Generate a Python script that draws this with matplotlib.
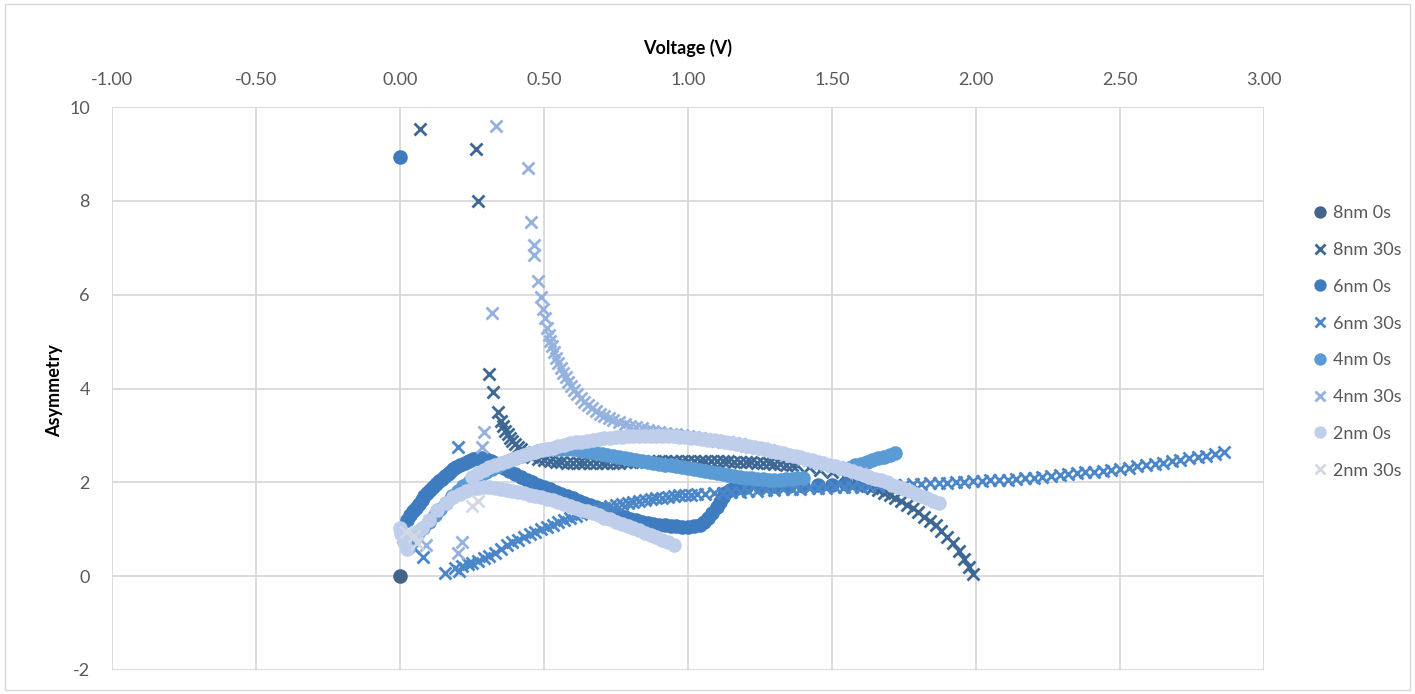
import matplotlib
matplotlib.use("Agg")
import matplotlib.pyplot as plt
from matplotlib.patches import Rectangle

plt.rcParams["font.family"] = ["Lato", "DejaVu Sans"]
plt.rcParams["axes.unicode_minus"] = False

# ---- data: (voltage [V], asymmetry) pairs for each film thickness / anneal time ----
labels = ["8nm 0s", "8nm 30s", "6nm 0s", "6nm 30s", "4nm 0s", "4nm 30s", "2nm 0s", "2nm 30s"]

pts_8nm_0s = [(0.0, 0.0)]

pts_8nm_30s = [
    (0.07, 9.53), (0.265, 9.1), (0.27, 8.0), (0.31, 4.3), (0.323, 3.92), (0.34, 3.5), (0.35, 3.3),
    (0.358, 3.2), (0.366, 3.1), (0.374, 3.02), (0.382, 2.95), (0.39, 2.88), (0.40, 2.82),
    (0.41, 2.76), (0.42, 2.7), (0.43, 2.65), (0.44, 2.6), (0.45, 2.56), (0.46, 2.53), (0.48, 2.49),
    (0.50, 2.47), (0.52, 2.45), (0.54, 2.44), (0.56, 2.43), (0.58, 2.42), (0.60, 2.42), (0.62, 2.41),
    (0.64, 2.41), (0.66, 2.41), (0.68, 2.41), (0.70, 2.41), (0.72, 2.42), (0.74, 2.42), (0.76, 2.42),
    (0.78, 2.43), (0.80, 2.43), (0.82, 2.44), (0.84, 2.44), (0.86, 2.45), (0.88, 2.45), (0.90, 2.45),
    (0.92, 2.45), (0.94, 2.46), (0.96, 2.46), (0.98, 2.46), (1.00, 2.46), (1.02, 2.46), (1.04, 2.46),
    (1.06, 2.46), (1.08, 2.45), (1.10, 2.45), (1.12, 2.45), (1.14, 2.45), (1.16, 2.44), (1.18, 2.44),
    (1.20, 2.43), (1.22, 2.43), (1.24, 2.42), (1.26, 2.42), (1.28, 2.41), (1.30, 2.40), (1.32, 2.39),
    (1.34, 2.38), (1.36, 2.37), (1.38, 2.36), (1.42, 2.32), (1.46, 2.27), (1.50, 2.21), (1.54, 2.14),
    (1.58, 2.04), (1.60, 1.98), (1.62, 1.93), (1.64, 1.88), (1.66, 1.83), (1.68, 1.78), (1.70, 1.72),
    (1.72, 1.66), (1.74, 1.6), (1.76, 1.52), (1.78, 1.45), (1.80, 1.36), (1.82, 1.27), (1.84, 1.18),
    (1.86, 1.08), (1.88, 0.96), (1.90, 0.84), (1.92, 0.7), (1.94, 0.54), (1.96, 0.37), (1.975, 0.2),
    (1.99, 0.05),
]

pts_6nm_0s = [
    (0.0, 8.93),
    (0.025, 1.2), (0.035, 1.3), (0.045, 1.38), (0.055, 1.46), (0.065, 1.54), (0.075, 1.62),
    (0.085, 1.7), (0.095, 1.77), (0.105, 1.84), (0.115, 1.9), (0.125, 1.96), (0.135, 2.02),
    (0.145, 2.08), (0.155, 2.13), (0.165, 2.18), (0.175, 2.23), (0.185, 2.28), (0.195, 2.32),
    (0.21, 2.37), (0.225, 2.42), (0.24, 2.46), (0.255, 2.49), (0.27, 2.51), (0.285, 2.52),
    (0.30, 2.5), (0.315, 2.46), (0.33, 2.41), (0.345, 2.36), (0.36, 2.3), (0.38, 2.24), (0.40, 2.17),
    (0.42, 2.11), (0.44, 2.05), (0.46, 2.0), (0.48, 1.95), (0.50, 1.9), (0.52, 1.85), (0.54, 1.8),
    (0.56, 1.75), (0.58, 1.7), (0.60, 1.66), (0.62, 1.61), (0.64, 1.56), (0.66, 1.52), (0.68, 1.47),
    (0.70, 1.43), (0.72, 1.39), (0.74, 1.35), (0.76, 1.3), (0.78, 1.26), (0.80, 1.22), (0.82, 1.19),
    (0.84, 1.16), (0.86, 1.13), (0.88, 1.11), (0.90, 1.09), (0.92, 1.08), (0.94, 1.07), (0.96, 1.06),
    (0.98, 1.05), (1.00, 1.05), (1.02, 1.07), (1.04, 1.1), (1.055, 1.16), (1.07, 1.24), (1.085, 1.35),
    (1.10, 1.47), (1.11, 1.58), (1.12, 1.68), (1.13, 1.77), (1.145, 1.84), (1.16, 1.88), (1.18, 1.9),
    (1.20, 1.91), (1.25, 1.91), (1.30, 1.92), (1.35, 1.92), (1.40, 1.93), (1.45, 1.94), (1.50, 1.95),
    (1.55, 1.96), (1.60, 1.97),
]

pts_6nm_30s = [
    (0.01, 0.83), (0.03, 0.72), (0.045, 0.62), (0.08, 0.4), (0.2, 2.75),
    (0.155, 0.07), (0.19, 0.17), (0.205, 0.12), (0.215, 0.22), (0.235, 0.25), (0.25, 0.28),
    (0.27, 0.33), (0.29, 0.38), (0.31, 0.44), (0.33, 0.5), (0.35, 0.58), (0.37, 0.66), (0.39, 0.72),
    (0.41, 0.78), (0.43, 0.84), (0.45, 0.89), (0.47, 0.95), (0.49, 1.0), (0.51, 1.05), (0.53, 1.1),
    (0.55, 1.15), (0.57, 1.19), (0.59, 1.24), (0.61, 1.28), (0.63, 1.32), (0.65, 1.36), (0.67, 1.4),
    (0.69, 1.43), (0.71, 1.46), (0.73, 1.49), (0.75, 1.52), (0.77, 1.54), (0.79, 1.56), (0.81, 1.59),
    (0.83, 1.61), (0.85, 1.63), (0.87, 1.64), (0.89, 1.66), (0.91, 1.67), (0.93, 1.69), (0.95, 1.7),
    (0.97, 1.72), (0.99, 1.73), (1.01, 1.74), (1.03, 1.75), (1.06, 1.76), (1.09, 1.77), (1.12, 1.78),
    (1.15, 1.79), (1.18, 1.8), (1.21, 1.81), (1.24, 1.82), (1.27, 1.83), (1.30, 1.84), (1.33, 1.85),
    (1.36, 1.85), (1.39, 1.86), (1.42, 1.87), (1.45, 1.88), (1.48, 1.88), (1.51, 1.89), (1.54, 1.9),
    (1.57, 1.91), (1.60, 1.91), (1.63, 1.92), (1.66, 1.93), (1.69, 1.94), (1.72, 1.95), (1.75, 1.95),
    (1.78, 1.96), (1.81, 1.97), (1.84, 1.98), (1.87, 1.98), (1.90, 1.99), (1.93, 2.0), (1.96, 2.01),
    (1.99, 2.02), (2.02, 2.03), (2.05, 2.04), (2.08, 2.05), (2.11, 2.06), (2.14, 2.07), (2.17, 2.09),
    (2.20, 2.1), (2.23, 2.12), (2.26, 2.14), (2.29, 2.15), (2.32, 2.17), (2.35, 2.19), (2.38, 2.21),
    (2.41, 2.23), (2.44, 2.25), (2.47, 2.27), (2.50, 2.29), (2.53, 2.31), (2.56, 2.34), (2.59, 2.36),
    (2.62, 2.39), (2.65, 2.42), (2.68, 2.45), (2.71, 2.48), (2.74, 2.51), (2.77, 2.54), (2.80, 2.57),
    (2.83, 2.6), (2.86, 2.64),
]

pts_4nm_0s = [
    (0.03, 0.62), (0.045, 0.75), (0.06, 0.87), (0.08, 1.02), (0.10, 1.15), (0.12, 1.3), (0.14, 1.43),
    (0.16, 1.57), (0.18, 1.7), (0.20, 1.81), (0.22, 1.92), (0.24, 2.01), (0.26, 2.09), (0.28, 2.16),
    (0.30, 2.23), (0.32, 2.29), (0.34, 2.35), (0.36, 2.41), (0.38, 2.46), (0.40, 2.51), (0.42, 2.56),
    (0.44, 2.6), (0.46, 2.63), (0.48, 2.66), (0.50, 2.68), (0.52, 2.7), (0.54, 2.71), (0.56, 2.72),
    (0.58, 2.71), (0.60, 2.7), (0.62, 2.68), (0.64, 2.66), (0.66, 2.64), (0.68, 2.62), (0.70, 2.6),
    (0.72, 2.58), (0.74, 2.56), (0.76, 2.54), (0.78, 2.52), (0.80, 2.5), (0.82, 2.48), (0.84, 2.46),
    (0.86, 2.44), (0.88, 2.42), (0.90, 2.4), (0.92, 2.38), (0.94, 2.36), (0.96, 2.34), (0.98, 2.32),
    (1.00, 2.3), (1.02, 2.28), (1.04, 2.26), (1.06, 2.24), (1.08, 2.22), (1.10, 2.2), (1.12, 2.18),
    (1.14, 2.16), (1.16, 2.14), (1.18, 2.12), (1.20, 2.1), (1.22, 2.09), (1.24, 2.08), (1.26, 2.07),
    (1.28, 2.06), (1.30, 2.06), (1.32, 2.06), (1.34, 2.07), (1.36, 2.08), (1.38, 2.09), (1.40, 2.1),
    (1.56, 2.31), (1.58, 2.36), (1.60, 2.4), (1.62, 2.44), (1.64, 2.47), (1.66, 2.51), (1.68, 2.55),
    (1.70, 2.59), (1.72, 2.62),
]

pts_4nm_30s = [
    (0.335, 9.6), (0.445, 8.7), (0.455, 7.55), (0.465, 7.05), (0.465, 6.85), (0.48, 6.3),
    (0.49, 5.95), (0.497, 5.7), (0.503, 5.5), (0.51, 5.3), (0.516, 5.15), (0.522, 5.02),
    (0.528, 4.9), (0.535, 4.78), (0.542, 4.66), (0.55, 4.55), (0.558, 4.44), (0.566, 4.34),
    (0.575, 4.24), (0.585, 4.14), (0.595, 4.05), (0.605, 3.96), (0.615, 3.88), (0.627, 3.8),
    (0.64, 3.72), (0.653, 3.65), (0.667, 3.58), (0.68, 3.52), (0.695, 3.46), (0.71, 3.41),
    (0.725, 3.37), (0.74, 3.33), (0.76, 3.29), (0.78, 3.25), (0.80, 3.21), (0.82, 3.18),
    (0.84, 3.15), (0.86, 3.12), (0.88, 3.1), (0.90, 3.08), (0.92, 3.06), (0.94, 3.04), (0.96, 3.02),
    (0.98, 3.0), (1.00, 2.98), (1.02, 2.96), (1.04, 2.94), (1.06, 2.93), (1.08, 2.91), (1.10, 2.89),
    (1.12, 2.87), (1.14, 2.85), (1.16, 2.83), (1.18, 2.81), (1.20, 2.78), (1.22, 2.76), (1.24, 2.73),
    (1.26, 2.71), (1.28, 2.68), (1.30, 2.65), (1.32, 2.62), (1.34, 2.59), (1.36, 2.56), (1.38, 2.53),
    (1.40, 2.5), (1.42, 2.47), (1.44, 2.44), (1.46, 2.41), (1.48, 2.38), (1.50, 2.35), (1.52, 2.32),
    (1.54, 2.29), (1.56, 2.26), (1.58, 2.23), (1.60, 2.2),
    (0.32, 5.6), (0.285, 2.75), (0.29, 3.07), (0.09, 0.66), (0.2, 0.5), (0.215, 0.72),
]

pts_2nm_0s = [
    (0.0, 1.02), (0.005, 0.9), (0.015, 0.72), (0.025, 0.58), (0.06, 0.95), (0.075, 1.02),
    (0.10, 1.2), (0.13, 1.4), (0.16, 1.55), (0.185, 1.68), (0.21, 1.76), (0.23, 1.82), (0.25, 1.86),
    (0.27, 1.88), (0.29, 1.89), (0.31, 1.89), (0.33, 1.87), (0.35, 1.85), (0.37, 1.83), (0.39, 1.81),
    (0.41, 1.79), (0.43, 1.77), (0.45, 1.74), (0.47, 1.71), (0.49, 1.68), (0.51, 1.65), (0.53, 1.62),
    (0.55, 1.58), (0.57, 1.54), (0.59, 1.5), (0.61, 1.46), (0.63, 1.42), (0.65, 1.38), (0.67, 1.34),
    (0.69, 1.3), (0.71, 1.25), (0.73, 1.21), (0.75, 1.16), (0.77, 1.12), (0.79, 1.07), (0.81, 1.03),
    (0.83, 0.98), (0.85, 0.93), (0.87, 0.88), (0.89, 0.83), (0.91, 0.78), (0.93, 0.72), (0.95, 0.67),
    (0.25, 2.12), (0.27, 2.2), (0.29, 2.26), (0.31, 2.32), (0.33, 2.37), (0.35, 2.42), (0.37, 2.46),
    (0.39, 2.5), (0.41, 2.54), (0.43, 2.58), (0.45, 2.62), (0.47, 2.65), (0.49, 2.68), (0.51, 2.71),
    (0.53, 2.74), (0.55, 2.77), (0.57, 2.8), (0.59, 2.83), (0.61, 2.85), (0.63, 2.87), (0.65, 2.89),
    (0.67, 2.91), (0.69, 2.93), (0.71, 2.94), (0.73, 2.95), (0.75, 2.96), (0.77, 2.97), (0.79, 2.98),
    (0.81, 2.98), (0.83, 2.99), (0.85, 2.99), (0.87, 2.99), (0.89, 2.99), (0.91, 2.99), (0.93, 2.98),
    (0.95, 2.98), (0.97, 2.97), (0.99, 2.96), (1.01, 2.95), (1.03, 2.94), (1.05, 2.93), (1.07, 2.91),
    (1.09, 2.9), (1.11, 2.88), (1.13, 2.86), (1.15, 2.84), (1.17, 2.82), (1.19, 2.8), (1.21, 2.77),
    (1.23, 2.75), (1.25, 2.73), (1.27, 2.7), (1.29, 2.67), (1.31, 2.65), (1.33, 2.62), (1.35, 2.59),
    (1.37, 2.56), (1.39, 2.53), (1.41, 2.5), (1.43, 2.47), (1.45, 2.44), (1.47, 2.41), (1.49, 2.38),
    (1.51, 2.35), (1.53, 2.31), (1.55, 2.28), (1.57, 2.24), (1.59, 2.2), (1.61, 2.16), (1.63, 2.12),
    (1.65, 2.08), (1.67, 2.04), (1.69, 2.0), (1.71, 1.95), (1.73, 1.91), (1.75, 1.86), (1.77, 1.81),
    (1.79, 1.76), (1.81, 1.71), (1.83, 1.66), (1.85, 1.61), (1.87, 1.56),
]

pts_2nm_30s = [(0.02, 0.95), (0.05, 0.85), (0.06, 0.7), (0.25, 1.5), (0.27, 1.6)]

series = [pts_8nm_0s, pts_8nm_30s, pts_6nm_0s, pts_6nm_30s,
          pts_4nm_0s, pts_4nm_30s, pts_2nm_0s, pts_2nm_30s]
colors = ["#44648C", "#3D6794", "#3E7CBF", "#4A86C8", "#5B9BD5", "#95B1DE", "#BFCFEB", "#D3D9E4"]
markers = ["o", "x", "o", "x", "o", "x", "o", "x"]

x_ticks = [-1.0, -0.5, 0.0, 0.5, 1.0, 1.5, 2.0, 2.5, 3.0]
y_ticks = [-2, 0, 2, 4, 6, 8, 10]

fig = plt.figure(figsize=(14.15, 6.94), dpi=100)
ax = fig.add_axes([112 / 1415, 1 - 670 / 694, 1152 / 1415, 563 / 694])

for pts, c, m, lab in zip(series, colors, markers, labels):
    v = [p[0] for p in pts]
    a = [p[1] for p in pts]
    if m == "o":
        ax.plot(v, a, linestyle="none", marker="o", markersize=10.5, color=c,
                markeredgewidth=0, label=lab)
    else:
        ax.plot(v, a, linestyle="none", marker="x", markersize=9, color=c,
                markeredgewidth=2, label=lab)

ax.set_xlim(-1, 3)
ax.set_ylim(-2, 10)
ax.set_xticks(x_ticks)
ax.set_xticklabels([f"{t:.2f}" for t in x_ticks])
ax.set_yticks(y_ticks)
ax.xaxis.tick_top()
ax.xaxis.set_label_position("top")
ax.tick_params(axis="both", length=0, labelsize=13, labelcolor="#595959")
ax.tick_params(axis="x", pad=14)
ax.tick_params(axis="y", pad=16)
ax.grid(True, color="#D9D9D9", linewidth=1.3)
ax.set_axisbelow(True)
for s in ax.spines.values():
    s.set_visible(False)

ax.set_xlabel("Voltage (V)", fontsize=13, fontweight="bold")
ax.xaxis.set_label_coords(0.5, (670 - 48) / 563)
ax.xaxis.label.set_va("center")
ax.set_ylabel("Asymmetry", fontsize=13, fontweight="bold")
ax.yaxis.set_label_coords((55 - 112) / 1152, 0.497)
ax.yaxis.label.set_va("center")

# legend entries use a slightly smaller marker than the plotted points
leg = fig.legend(loc="upper left", bbox_to_anchor=(1306 / 1415, 1 - 198 / 694),
                 frameon=False, fontsize=13, labelcolor="#595959", handlelength=0.8,
                 handletextpad=0.3, labelspacing=1.15, borderaxespad=0, markerscale=0.85)

fig.patches.append(Rectangle((5 / 1415, 4 / 694), 1405 / 1415, 686 / 694,
                             transform=fig.transFigure, fill=False,
                             edgecolor="#D9D9D9", linewidth=1))

fig.savefig("out.png", dpi=100)
